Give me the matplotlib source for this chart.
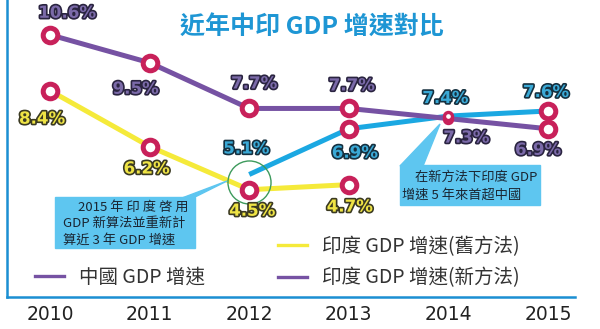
import numpy as np
import matplotlib
matplotlib.use("Agg")
import matplotlib.pyplot as plt
from matplotlib.lines import Line2D
from matplotlib.patches import Rectangle, Polygon
import matplotlib.patheffects as pe

# ---------------- data ----------------
years = ["2010", "2011", "2012", "2013", "2014", "2015"]
china = [10.6, 9.5, 7.7, 7.7, 7.3, 6.9]
india_old = [8.4, 6.2, 4.5, 4.7, np.nan, np.nan]
india_new = [np.nan, np.nan, 5.1, 6.9, 7.4, 7.6]

title = "近年中印 GDP 增速對比"
legend_labels = ["中國 GDP 增速", "印度 GDP 增速(舊方法)", "印度 GDP 增速(新方法)"]
note1 = ["2015 年 印 度 啓 用", "GDP 新算法並重新計", "算近 3 年 GDP 增速"]
note2 = ["在新方法下印度 GDP", "增速 5 年來首超中國"]

# ---------------- style ----------------
W, H = 600, 329
C_CHINA = "#7652a3"
C_NEW = "#1ba8e2"
C_OLD = "#f5ea3a"
C_MARK = "#c8215a"
C_FRAME = "#1b8fd2"
C_BOX = "#5ec6f0"
CJK = ["Noto Sans CJK TC", "DejaVu Sans"]

fig = plt.figure(figsize=(W / 100, H / 100), dpi=100)
fig.patch.set_facecolor("white")


def fx(px):
    return px / W


def fy(py):
    return 1 - py / H


ax = fig.add_axes([fx(7), (H - 297) / H, (575 - 7) / W, 297 / H])
ax.set_facecolor("none")
ax.set_xlim(-0.432, 5.271)
ax.set_ylim(0.276, 11.97)
for s in ("top", "right"):
    ax.spines[s].set_visible(False)
for s in ("left", "bottom"):
    ax.spines[s].set_color(C_FRAME)
    ax.spines[s].set_linewidth(1.8)
ax.set_yticks([])
x = np.arange(len(years))
ax.set_xticks(x)
ax.set_xticklabels(years, fontsize=13.5, color="#222222", family="DejaVu Sans")
ax.tick_params(axis="x", length=0, pad=6)

LW = 3.6
ax.plot(x, india_old, color=C_OLD, lw=LW, zorder=2, solid_capstyle="butt")
ax.plot(x, india_new, color=C_NEW, lw=LW, zorder=3, solid_capstyle="butt")
ax.plot(x, china, color=C_CHINA, lw=LW, zorder=4, solid_capstyle="butt")

small_idx = [years.index("2014")]


def markers(vals, skip=()):
    big = [i for i in range(len(vals)) if not np.isnan(vals[i]) and i not in small_idx and i not in skip]
    sm = [i for i in small_idx if not np.isnan(vals[i])]
    ax.plot(x[big], np.array(vals)[big], ls="none", marker="o", ms=10.5, mfc="white",
            mec=C_MARK, mew=3.6, zorder=6)
    if sm:
        ax.plot(x[sm], np.array(vals)[sm], ls="none", marker="o", ms=5.8, mfc="white",
                mec=C_MARK, mew=2.4, zorder=6)


markers(china)
markers(india_old)
markers(india_new, skip=(years.index("2012"),))

# green highlight circle at 2012 junction
i12 = years.index("2012")
ax.plot([x[i12]], [(india_old[i12] + india_new[i12]) / 2], ls="none", marker="o", ms=31,
        mfc="none", mec="#3d9a5c", mew=1.0, zorder=5)

# data labels: (series, offsets in px (dx, dy down))
def label(vals, offs, fill, edge):
    for i, v in enumerate(vals):
        if np.isnan(v) or offs[i] is None:
            continue
        dx, dy = offs[i]
        t = ax.annotate(f"{v}%", (x[i], v), xytext=(dx * 0.72, -dy * 0.72),
                        textcoords="offset points", ha="center", va="center",
                        fontsize=12, fontweight="bold", color=fill,
                        family="DejaVu Sans", zorder=8)
        t.set_path_effects([pe.Stroke(linewidth=2.4, foreground=edge), pe.Normal()])


label(china, [(17, -22), (-14, 26), (5, -25), (3, -23), (18, 19), (-10, 21)], "#7b6aa9", "#2a2440")
label(india_old, [(-8, 28), (-3, 22), (3, 21), (1, 22), None, None], "#efe445", "#3b3a22")
label(india_new, [None, None, (-3, -26), (6, 24), (-3, -18), (-2, -19)], "#3aa9d6", "#16303f")

# title
fig.text(fx(312), fy(27), title, ha="center", va="center", fontsize=18, fontweight="bold",
         color="#1e96d4", family=CJK)

# callout boxes
def box(x0, y0, x1, y1, wedge):
    fig.patches.append(Rectangle((fx(x0), fy(y1)), fx(x1 - x0), (y1 - y0) / H,
                                 transform=fig.transFigure, color=C_BOX, zorder=1))
    fig.patches.append(Polygon([(fx(a), fy(b)) for a, b in wedge], closed=True,
                               transform=fig.transFigure, color=C_BOX, zorder=1))


box(55, 197, 195, 248, [(182, 198), (193, 198), (227, 181)])
box(400, 165, 540, 205, [(400, 166), (423, 166), (440, 124)])

for (tx, ty), s in zip([(78, 207), (63, 223), (63, 240)], note1):
    fig.text(fx(tx), fy(ty), s, ha="left", va="center", fontsize=9.5, color="#1a2633", family=CJK)
for (tx, ty), s in zip([(415, 177), (402, 195)], note2):
    fig.text(fx(tx), fy(ty), s, ha="left", va="center", fontsize=9.5, color="#1a2633", family=CJK)

# legends
h_china = Line2D([], [], color=C_CHINA, lw=2.4)
h_old = Line2D([], [], color=C_OLD, lw=2.4)
h_new = Line2D([], [], color=C_CHINA, lw=2.4)
leg_kw = dict(frameon=False, borderpad=0, borderaxespad=0, handlelength=1.5,
              handletextpad=0.75, prop={"family": CJK, "size": 14}, labelcolor="#333333")
leg1 = fig.legend([h_china], [legend_labels[0]], loc="center left",
                  bbox_to_anchor=(fx(35), fy(277)), **leg_kw)
leg2 = fig.legend([h_old, h_new], legend_labels[1:], loc="center left",
                  bbox_to_anchor=(fx(278), fy(262)), labelspacing=0.55, **leg_kw)

fig.savefig("out.png", dpi=100)
